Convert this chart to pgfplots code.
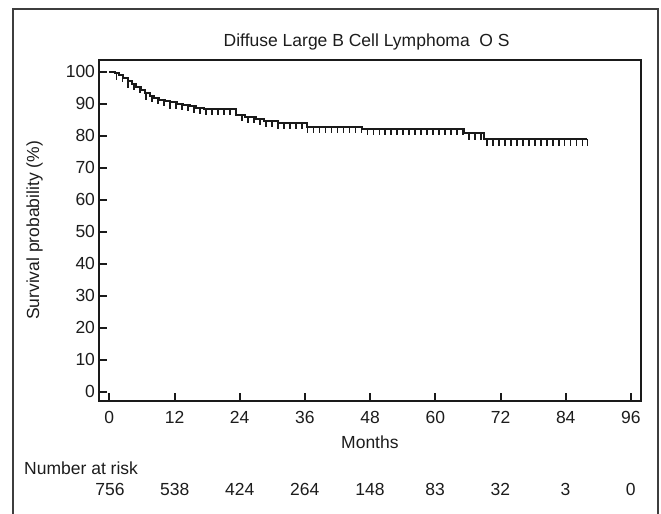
\documentclass[border=0pt]{standalone}
\usepackage{fontspec}
\setmainfont{Liberation Sans}
\usepackage{pgfplots}
\pgfplotsset{compat=1.18}
\definecolor{txt}{HTML}{1C1C1C}
\definecolor{ln}{HTML}{1A1A1A}
\pgfdeclareplotmark{censor}{\pgfpathmoveto{\pgfpoint{0pt}{0pt}}\pgfpathlineto{\pgfpoint{0pt}{-6.5bp}}\pgfusepathqstroke}
\begin{document}
\begin{tikzpicture}[x=1bp,y=1bp]
\path[use as bounding box] (0,0) rectangle (661,-514);
\draw[line width=1.5bp, color=txt!85] (13,-520) -- (13,-9) -- (658,-9) -- (658,-520);
\begin{axis}[
  at={(99bp,-401bp)}, anchor=south west,
  scale only axis, width=541.7bp, height=341bp,
  xmin=-1.9, xmax=97.8, ymin=-2.9, ymax=103.6,
  xtick={0,12,...,96}, ytick={0,10,...,100},
  tick pos=left, tick align=inside,
  major tick length=8bp,
  axis line style={line width=2.2bp, color=ln},
  every tick/.style={line width=2bp, color=ln},
  tick label style={font=\fontsize{17.5bp}{20bp}\selectfont, color=txt},
  /pgf/number format/assume math mode=true,
  xticklabel style={anchor=base, yshift=-22.5bp},
  yticklabel style={xshift=-0.5bp},
  clip=false,
]
\addplot[const plot, line width=2bp, color=ln] coordinates {
(0,100) (1.0,99.5) (1.8,98.8) (2.6,97.9) (3.4,97.0) (4.2,96.2) (5.0,95.2)
(5.8,94.2) (6.6,93.2) (7.4,92.4) (8.2,91.8) (9.2,91.2) (10.2,90.8)
(11.2,90.4) (12.5,90.0) (13.6,89.6) (14.8,89.2) (16.0,88.7) (17.5,88.4)
(23.3,86.5) (25.0,85.8) (27.0,85.2) (28.5,84.6) (31.0,84.0) (36.3,82.8)
(46.5,82.2) (65.2,80.8) (69.0,78.8) (88.0,78.8)
};
\addplot[only marks, mark=censor, mark options={line width=1.7bp, color=ln}] coordinates {
(1.3,99.5) (2.4,98.8) (3.5,97.0) (4.6,96.2) (5.7,95.2) (6.8,93.2) (7.9,92.4)
(9.0,91.8) (10.1,91.2) (11.2,90.4) (12.3,90.4) (13.4,90.0) (14.5,89.6)
(15.6,89.2) (16.7,88.7) (17.8,88.4) (18.9,88.4) (20.0,88.4) (21.1,88.4)
(22.2,88.4) (23.2,88.4) (24.4,86.5) (25.5,85.8) (26.6,85.8) (27.7,85.2)
(28.8,84.6) (29.9,84.6) (31.0,84.0) (32.1,84.0) (33.2,84.0) (34.3,84.0)
(35.4,84.0) (36.5,82.8) (37.6,82.8) (38.7,82.8) (39.8,82.8) (40.9,82.8)
(42.0,82.8) (43.1,82.8) (44.2,82.8) (45.3,82.8) (46.4,82.8) (47.5,82.2)
(48.6,82.2) (49.7,82.2) (50.8,82.2) (51.9,82.2) (53.0,82.2) (54.1,82.2)
(55.2,82.2) (56.3,82.2) (57.4,82.2) (58.5,82.2) (59.6,82.2) (60.7,82.2)
(61.8,82.2) (62.9,82.2) (64.0,82.2) (65.1,82.2) (66.2,80.8) (67.3,80.8)
(68.4,80.8) (69.5,78.8) (70.6,78.8) (71.7,78.8) (72.8,78.8) (73.9,78.8)
(75.0,78.8) (76.1,78.8) (77.2,78.8) (78.3,78.8) (79.4,78.8) (80.5,78.8)
(81.6,78.8) (82.7,78.8) (83.8,78.8) (84.9,78.8) (86.0,78.8) (87.1,78.8)
(88.0,78.8)
};
\end{axis}
\begin{scope}[every node/.style={font=\fontsize{17.5bp}{20bp}\selectfont, color=txt, inner sep=0pt}]
\node[anchor=base] at (366.7,-46.5) {Diffuse Large B Cell Lymphoma\ \ O S};
\node[anchor=base] at (369.9,-448) {Months};
\node[anchor=south, rotate=90] at (43,-230.5) {Survival probability (\%)};
\node[anchor=base west] at (24,-474) {Number at risk};
\foreach \x/\n in {110/756,174.8/538,239.8/424,304.8/264,370/148,435.2/83,500.4/32,565.5/3,630.7/0}
  \node[anchor=base] at (\x,-495) {\n};
\end{scope}
\end{tikzpicture}
\end{document}
